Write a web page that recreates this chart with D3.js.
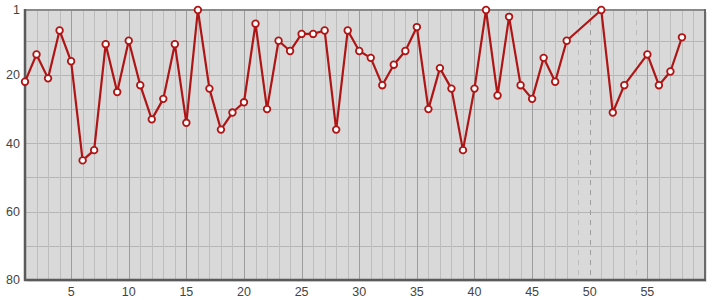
<!DOCTYPE html>
<html><head><meta charset="utf-8">
<script src="https://cdn.jsdelivr.net/npm/d3@7"></script>
<style>body{margin:0;background:#fff}svg{display:block}text{font-family:"Liberation Sans",Arial,sans-serif}</style>
</head><body>
<svg id="c" width="715" height="300"></svg>
<script>
const xs = [1,2,3,4,5,6,7,8,9,10,11,12,13,14,15,16,17,18,19,20,21,22,23,24,25,26,27,28,29,30,31,32,33,34,35,36,37,38,39,40,41,42,43,44,45,46,47,48,51,52,53,55,56,57,58];
const ranks = [22,14,21,7,16,45,42,11,25,10,23,33,27,11,34,1,24,36,31,28,5,30,10,13,8,8,7,36,7,13,15,23,17,13,6,30,18,24,42,24,1,26,3,23,27,15,22,10,1,31,23,14,23,19,9];
const missing = [49,50,54];
const yTicks = [1,20,40,60,80];
const xTicks = [5,10,15,20,25,30,35,40,45,50,55];

const svg = d3.select("#c");
const L=25,R=705,T=10,B=280;
const x = d3.scaleLinear().domain([1,60]).range([L,R]);
const y = d3.scaleLinear().domain([1,80]).range([T,B]);

// shadow
svg.append("rect").attr("x",L+2).attr("y",T+2).attr("width",R-L).attr("height",B-T).attr("fill","#e4e4e4");
svg.append("rect").attr("x",L).attr("y",T).attr("width",R-L).attr("height",B-T).attr("fill","#d9d9d9");

const g = svg.append("g");
// horizontal grid
g.selectAll("line.h").data([10,20,30,40,50,60,70]).join("line")
  .attr("x1",L).attr("x2",R).attr("y1",d=>Math.round(y(d))+0.5).attr("y2",d=>Math.round(y(d))+0.5)
  .attr("stroke","#b5b5b5").attr("stroke-width",1);
// vertical grid
g.selectAll("line.v").data(d3.range(2,60)).join("line")
  .attr("x1",d=>Math.round(x(d))+0.5).attr("x2",d=>Math.round(x(d))+0.5).attr("y1",T).attr("y2",B)
  .attr("stroke",d=>d%5===0?"#9d9d9d":"#bdbdbd").attr("stroke-width",1)
  .attr("stroke-dasharray",d=>missing.includes(d)?"5,5":null);

// frame
svg.append("line").attr("x1",L).attr("x2",R).attr("y1",T).attr("y2",T).attr("stroke","#8a8a8a").attr("stroke-width",2);
svg.append("line").attr("x1",R).attr("x2",R).attr("y1",T-1).attr("y2",B+1).attr("stroke","#6a6a6a").attr("stroke-width",2);
svg.append("line").attr("x1",L).attr("x2",L).attr("y1",T-1).attr("y2",B+1).attr("stroke","#5a5a5a").attr("stroke-width",2.5);
svg.append("line").attr("x1",L-1).attr("x2",R+1).attr("y1",B).attr("y2",B).attr("stroke","#5a5a5a").attr("stroke-width",2.5);

// axis labels
svg.selectAll("text.y").data(yTicks).join("text")
  .attr("x",20).attr("y",d=>y(d)).attr("dy","0.35em").attr("text-anchor","end")
  .attr("font-size",12.5).attr("fill","#444").text(d=>d);
svg.selectAll("text.x").data(xTicks).join("text")
  .attr("x",d=>x(d)).attr("y",296).attr("text-anchor","middle")
  .attr("font-size",12.5).attr("fill","#444").text(d=>d);

const pts = xs.map((v,i)=>[v,ranks[i]]);
svg.append("path").datum(pts)
  .attr("d",d3.line().x(d=>x(d[0])).y(d=>y(d[1])))
  .attr("fill","none").attr("stroke","#b01515").attr("stroke-width",2.2).attr("stroke-linejoin","round");
svg.selectAll("circle").data(pts).join("circle")
  .attr("cx",d=>x(d[0])).attr("cy",d=>y(d[1])).attr("r",3.3)
  .attr("fill","#fff").attr("stroke","#b01515").attr("stroke-width",1.8);
</script>
</body></html>
